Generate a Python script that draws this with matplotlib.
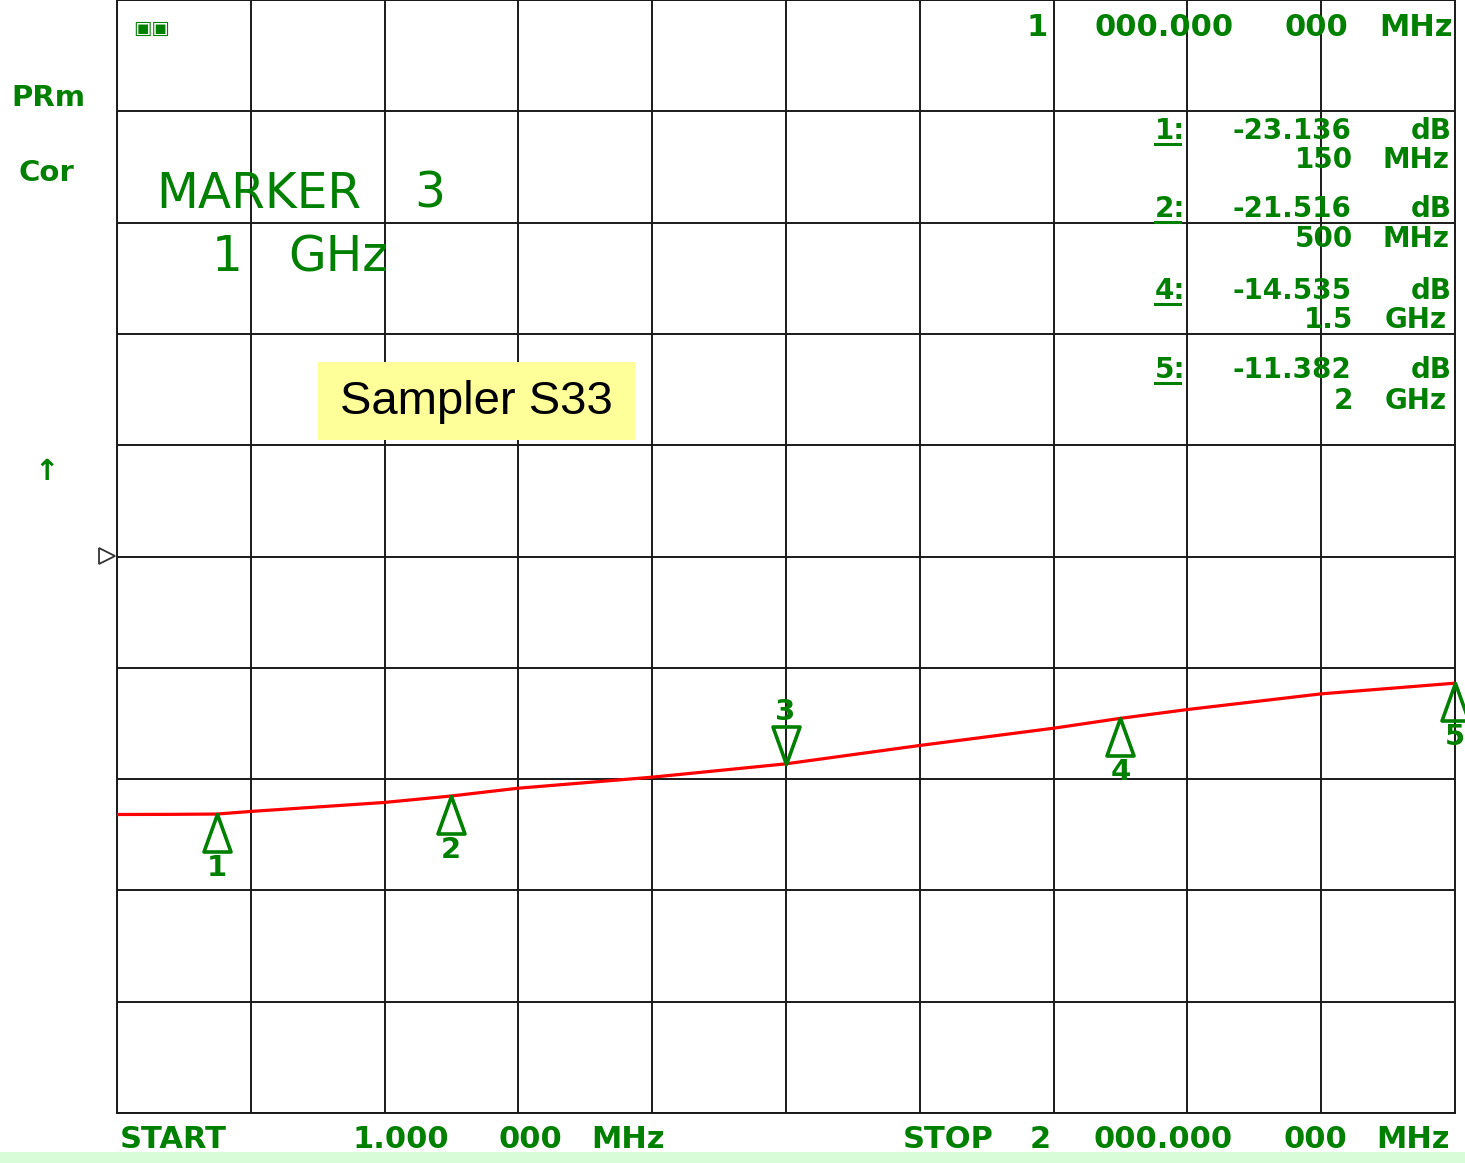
import numpy as np
import matplotlib
matplotlib.use("Agg")
import matplotlib.pyplot as plt
from matplotlib.lines import Line2D
from matplotlib.patches import Rectangle
from matplotlib.path import Path

# Trace (frequency in MHz, level in dB)
freq_mhz = [1, 75, 150, 200, 400, 500, 600, 800, 1000, 1200, 1400, 1500, 1600, 1800, 2000]
level_db = [-23.18, -23.17, -23.14, -22.91, -22.10, -21.52, -20.82, -19.83, -18.63,
            -16.98, -15.43, -14.54, -13.75, -12.34, -11.38]

# Markers
marker_freq = [150, 500, 1000, 1500, 2000]
marker_db = [-23.136, -21.516, -18.63, -14.535, -11.382]
marker_name = ["1", "2", "3", "4", "5"]
active_marker = "3"

# Screen settings
f_start, f_stop = 1, 2000
ref_level, db_per_div = 0, 10

W, H = 1465, 1163
GREEN = "#008000"

fig = plt.figure(figsize=(W / 100, H / 100), dpi=100)
fig.patch.set_facecolor("white")


def fx(x):
    return x / W


def fy(y):
    return 1 - y / H


def label(x, y, s, size=21, ha="center", weight="bold", family="DejaVu Sans", color=GREEN):
    fig.text(fx(x), fy(y), s, ha=ha, va="center", fontsize=size,
             fontweight=weight, family=family, color=color)


# light green strip along the bottom
fig.patches.append(Rectangle((0, 0), 1, 11 / H, transform=fig.transFigure,
                             facecolor="#d8fcd8", edgecolor="none", zorder=0))

ax = fig.add_axes([117 / W, 50 / H, 1338 / W, 1113 / H])
ax.set_xlim(f_start, f_stop)
ax.set_ylim(ref_level - 5 * db_per_div, ref_level + 5 * db_per_div)
ax.set_xticks(np.linspace(f_start, f_stop, 11))
ax.set_yticks(np.arange(-50, 51, 10))
ax.tick_params(length=0, labelbottom=False, labelleft=False)
ax.grid(True, color="#1a1a1a", linewidth=1.4)
for sp in ax.spines.values():
    sp.set_color("#1a1a1a")
    sp.set_linewidth(1.4)

ax.plot(freq_mhz, level_db, color="#ff0000", linewidth=2.3, zorder=3)

# triangle marker with apex at the data point
up_tri = Path([(0, 0), (-0.36, -1), (0.36, -1), (0, 0)],
              [Path.MOVETO, Path.LINETO, Path.LINETO, Path.CLOSEPOLY])
down_tri = Path([(0, 0), (-0.36, 1), (0.36, 1), (0, 0)],
                [Path.MOVETO, Path.LINETO, Path.LINETO, Path.CLOSEPOLY])

for f, d, n in zip(marker_freq, marker_db, marker_name):
    if n == active_marker:
        ax.plot([f], [d], marker=down_tri, markersize=54, markerfacecolor="none",
                markeredgecolor=GREEN, markeredgewidth=2.6, clip_on=False, zorder=4)
        ax.annotate(n, (f, d), xytext=(0, 37), textcoords="offset points",
                    ha="center", va="center", fontsize=21, fontweight="bold",
                    color=GREEN, annotation_clip=False)
    else:
        ax.plot([f], [d], marker=up_tri, markersize=54, markerfacecolor="none",
                markeredgecolor=GREEN, markeredgewidth=2.6, clip_on=False, zorder=4)
        ax.annotate(n, (f, d), xytext=(0, -39), textcoords="offset points",
                    ha="center", va="center", fontsize=21, fontweight="bold",
                    color=GREEN, annotation_clip=False)

# reference level pointer
fig.add_artist(Line2D([fx(107)], [fy(556)], marker=">", markersize=11,
                      markerfacecolor="white", markeredgecolor="#333333",
                      markeredgewidth=1.3))

# left annotations
label(48, 98, "PRm", size=21)
label(46, 173, "Cor", size=21)
label(47, 472, "↑", size=21)
label(152, 28, "▣▣", size=14)

label(259, 194, "MARKER", size=35, weight="normal")
label(430, 194, "3", size=35, weight="normal")
label(227, 257, "1", size=35, weight="normal")
label(338, 257, "GHz", size=35, weight="normal")

# sampler label box
fig.patches.append(Rectangle((fx(318), fy(440)), 317 / W, 78 / H, transform=fig.transFigure,
                             facecolor="#ffff99", edgecolor="none", zorder=5))
fig.text(fx(476), fy(402), "Sampler S33", ha="center", va="center", fontsize=34,
         family="Liberation Sans", color="black", zorder=6)

# active marker frequency
label(1037, 28, "1", size=22)
label(1164, 28, "000.000", size=22)
label(1316, 28, "000", size=22)
label(1416, 28, "MHz", size=22)

# marker readouts
readouts = [("1", "-23.136", "150", "MHz", 131, 160),
            ("2", "-21.516", "500", "MHz", 209, 239),
            ("4", "-14.535", "1.5", "GHz", 291, 320),
            ("5", "-11.382", "2", "GHz", 370, 401)]
for n, val, fq, unit, y1, y2 in readouts:
    label(1170, y1, n + ":", size=20)
    fig.add_artist(Line2D([fx(1155), fx(1180)], [fy(y1 + 13), fy(y1 + 13)],
                          color=GREEN, linewidth=2.2))
    label(1292, y1, val, size=20)
    label(1431, y1, "dB", size=20)
    label(1353, y2, fq, ha="right", size=20)
    label(1416, y2, unit, size=20)

# start / stop
label(173, 1140, "START", size=22)
label(401, 1140, "1.000", size=22)
label(530, 1140, "000", size=22)
label(628, 1140, "MHz", size=22)
label(948, 1140, "STOP", size=22)
label(1040, 1140, "2", size=22)
label(1163, 1140, "000.000", size=22)
label(1315, 1140, "000", size=22)
label(1413, 1140, "MHz", size=22)

fig.savefig("out.png", dpi=100)
